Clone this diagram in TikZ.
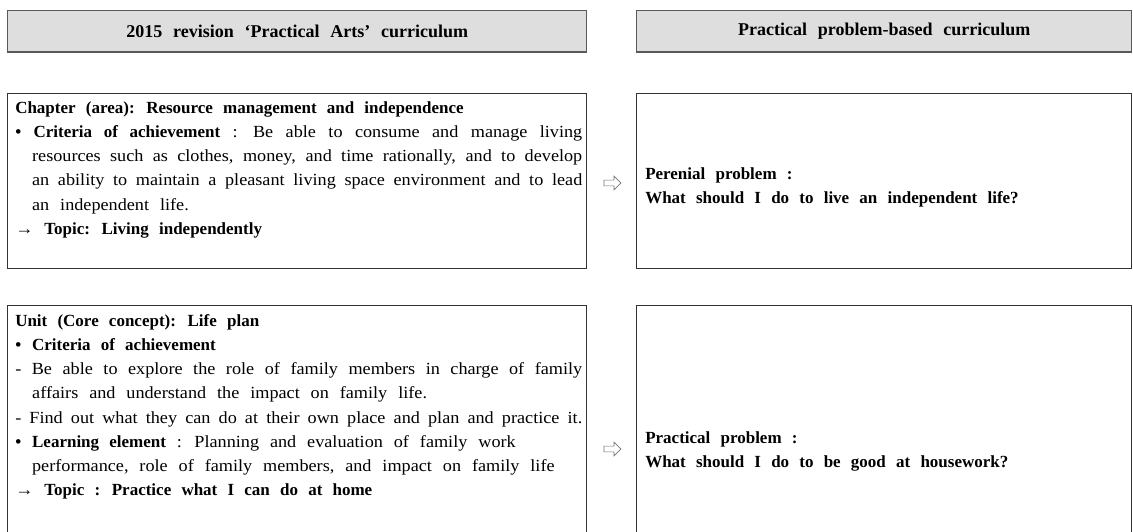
\documentclass[tikz,border=0pt]{standalone}
\usepackage{fontspec}
\setmainfont{Liberation Serif}[WordSpace=2.4, UprightFeatures={FakeStretch=1.07}]
\usetikzlibrary{shapes.arrows}
\newlength\hangA
\newlength\hangB
\newcommand\wsp{\spaceskip=0pt\xspaceskip=0pt\relax}
\newcommand\bul{\textbf{•}}
\newcommand\jline[1]{\makebox[\linewidth][s]{#1}}
\newcommand\hjline[2]{\hspace*{#1}\makebox[\dimexpr\linewidth-#1\relax][s]{#2}}
\tikzset{
  headbox/.style={draw=black!65, line width=1.1pt, fill=black!13, inner sep=0pt, anchor=north west,
    font=\fontsize{13.5}{16}\selectfont\bfseries, text=black},
  framebox/.style={draw=black!80, line width=0.8pt, anchor=north west, inner sep=0pt},
  bodytext/.style={anchor=base west, inner sep=0pt, align=left, text=black,
    font=\fontsize{12.75}{18.2}\selectfont},
  hollowarrow/.style={single arrow, draw=black!55, fill=white, line width=0.5pt, inner sep=1.9pt,
    single arrow head extend=3pt, minimum height=12.75pt},
}
\begin{document}
\begin{tikzpicture}[x=0.75pt,y=-0.75pt]
\useasboundingbox (0,0) rectangle (1133,532);

% headers
\node[headbox, minimum width=434.25pt, minimum height=31pt] (h1) at (7,10) {2015 revision ‘Practical Arts’ curriculum};
\node[headbox, minimum width=371.25pt, minimum height=31pt] (h2) at (636,10) {Practical problem-based curriculum};

% frames
\node[framebox, minimum width=434.25pt, minimum height=131.25pt] (b1) at (7,93) {};
\node[framebox, minimum width=371.25pt, minimum height=131.25pt] (b2) at (636,93) {};
\node[framebox, minimum width=434.25pt, minimum height=183pt] (b3) at (7,305) {};
\node[framebox, minimum width=371.25pt, minimum height=183pt] (b4) at (636,305) {};

% box 1 text
\node[bodytext, text width=425.25pt] (t1) at (15,113) {\wsp\settowidth\hangA{\bul\ }%
\textbf{Chapter (area): Resource management and independence}\\
\jline{\bul\ \textbf{Criteria of achievement} : Be able to consume and manage living}\\
\hjline{\hangA}{resources such as clothes, money, and time rationally, and to develop}\\
\hjline{\hangA}{an ability to maintain a pleasant living space environment and to lead}\\
\hspace*{\hangA}an independent life.\\
→ \textbf{Topic: Living independently}};

% box 3 text
\node[bodytext, text width=425.25pt] (t3) at (15,326) {\wsp\settowidth\hangA{\bul\ }\settowidth\hangB{-\ }%
\textbf{Unit (Core concept): Life plan}\\
\bul\ \textbf{Criteria of achievement}\\
\jline{- Be able to explore the role of family members in charge of family}\\
\hspace*{\hangB}affairs and understand the impact on family life.\\
\jline{- Find out what they can do at their own place and plan and practice it.}\\
\bul\ \textbf{Learning element} : Planning and evaluation of family work\\
\hspace*{\hangA}performance, role of family members, and impact on family life\\
→ \textbf{Topic : Practice what I can do at home}};

% right texts
\node[bodytext, text width=360pt, font=\fontsize{12.75}{18.6}\selectfont\bfseries] (t2) at (645,179) {\wsp Perenial problem :\\
What should I do to live an independent life?};
\node[bodytext, text width=360pt, font=\fontsize{12.75}{18.6}\selectfont\bfseries] (t4) at (645,443) {\wsp Practical problem :\\
What should I do to be good at housework?};

% arrows
\node[hollowarrow] (a1) at (611,183) {};
\node[hollowarrow] (a2) at (611,449) {};
\end{tikzpicture}
\end{document}
